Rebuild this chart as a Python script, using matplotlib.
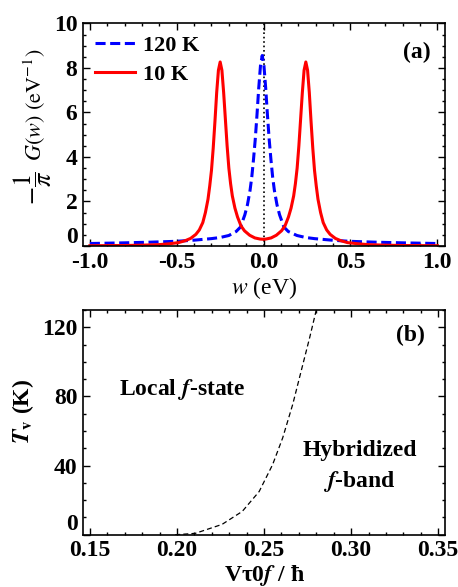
import matplotlib
matplotlib.use('Agg')
import matplotlib.pyplot as plt
from matplotlib.ticker import MultipleLocator

# spectral function, 120 K (blue dashed)
w_120 = [-1.00, -0.80, -0.65, -0.50, -0.40, -0.30, -0.25, -0.20, -0.158, -0.133,
         -0.108, -0.093, -0.078, -0.068, -0.058, -0.048, -0.038, -0.028, -0.018, -0.008,
         0.002, 0.012, 0.022, 0.032, 0.042, 0.052, 0.062, 0.077, 0.092, 0.117,
         0.142, 0.192, 0.242, 0.292, 0.392, 0.492, 0.642, 0.80, 1.00]
g_120 = [0.11, 0.14, 0.17, 0.21, 0.26, 0.33, 0.38, 0.47, 0.65, 0.85,
         1.4, 1.85, 2.5, 3.1, 3.9, 4.8, 5.9, 7.1, 8.1, 8.56,
         8.1, 7.1, 5.9, 4.8, 3.9, 3.1, 2.5, 1.85, 1.4, 0.85,
         0.65, 0.47, 0.38, 0.33, 0.26, 0.21, 0.17, 0.14, 0.11]

# spectral function, 10 K (red solid)
w_10 = [-1.00, -0.90, -0.80, -0.70, -0.60, -0.54, -0.49, -0.45, -0.42, -0.39,
        -0.37, -0.35, -0.335, -0.32, -0.31, -0.30, -0.29, -0.28, -0.27, -0.26,
        -0.25, -0.24, -0.23, -0.22, -0.21, -0.20, -0.19, -0.18, -0.165, -0.15,
        -0.13, -0.11, -0.08, -0.05, -0.02, 0.00, 0.013, 0.043, 0.073, 0.103,
        0.123, 0.143, 0.158, 0.173, 0.183, 0.193, 0.203, 0.213, 0.223, 0.233,
        0.243, 0.253, 0.263, 0.273, 0.283, 0.293, 0.303, 0.313, 0.328, 0.343,
        0.363, 0.383, 0.413, 0.443, 0.483, 0.54, 0.60, 0.70, 0.80, 0.90, 1.00]
g_10 = [0.01, 0.015, 0.02, 0.035, 0.06, 0.10, 0.15, 0.24, 0.34, 0.52,
        0.72, 1.05, 1.5, 2.1, 2.7, 3.4, 4.4, 5.6, 6.9, 7.9,
        8.27, 7.9, 6.9, 5.7, 4.5, 3.5, 2.8, 2.25, 1.7, 1.3,
        0.9, 0.68, 0.48, 0.36, 0.31, 0.30, 0.31, 0.36, 0.48, 0.68,
        0.9, 1.3, 1.7, 2.25, 2.8, 3.5, 4.5, 5.7, 6.9, 7.9,
        8.27, 7.9, 6.9, 5.6, 4.4, 3.4, 2.7, 2.1, 1.5, 1.05,
        0.72, 0.52, 0.34, 0.24, 0.15, 0.10, 0.06, 0.035, 0.02, 0.015, 0.01]

# boundary T_v vs hybridization
v_tau = [0.199, 0.2105, 0.2259, 0.2375, 0.2472, 0.2549, 0.2607, 0.2665, 0.2714,
         0.2762, 0.2800, 0.2810]
t_v = [0.0, 0.8, 6.0, 13.5, 25.0, 40.5, 56.0, 75.5, 95.0, 114.0, 130.0, 134.0]

plt.rcParams['font.family'] = ['Liberation Serif', 'DejaVu Serif']
plt.rcParams['mathtext.fontset'] = 'stix'
plt.rcParams['axes.unicode_minus'] = False

TICK_FS = 17


def style_axes(ax):
    for s in ax.spines.values():
        s.set_linewidth(1.2)
    ax.tick_params(which='both', direction='in', top=True, right=True, width=1)
    ax.tick_params(which='major', length=5, labelsize=TICK_FS, pad=4)
    ax.tick_params(which='minor', length=2.5)
    for lab in ax.get_xticklabels() + ax.get_yticklabels():
        lab.set_fontweight('bold')


def no_zero(fmt):
    return lambda v, p: '' if abs(v) < 1e-9 else fmt.format(v)


fig = plt.figure(figsize=(4.58, 5.87), dpi=100)
ax1 = fig.add_axes([0.181, 0.581, 0.791, 0.379])
ax2 = fig.add_axes([0.181, 0.089, 0.791, 0.383])

# (a)
ax1.axvline(0, color='black', ls=':', lw=1.2)
ax1.plot(w_120, g_120, color='blue', ls=(0, (3.3, 1.5)), lw=2.2, label='120 K')
ax1.plot(w_10, g_10, color='red', lw=2.2, label='10 K')
ax1.set_xlim(-1.04, 1.045)
ax1.set_ylim(0, 10)
ax1.xaxis.set_major_locator(MultipleLocator(0.5))
ax1.xaxis.set_minor_locator(MultipleLocator(0.1))
ax1.yaxis.set_major_locator(MultipleLocator(2))
ax1.yaxis.set_minor_locator(MultipleLocator(0.5))
ax1.xaxis.set_major_formatter(lambda v, p: f'{v:.1f}')
ax1.yaxis.set_major_formatter(no_zero('{:.0f}'))
style_axes(ax1)
ax1.text(-0.015, 0.036, '0', transform=ax1.transAxes, ha='right', va='center',
         fontsize=TICK_FS, fontweight='bold')
ax1.set_xlabel(r'$w$ (eV)', fontsize=17, labelpad=2)
fig.text(0.072, 0.680, r'$-\dfrac{1}{\pi}$', rotation=90, fontsize=19,
         ha='center', va='center')
fig.text(0.076, 0.821, r'$G(w)\ (\mathrm{eV}^{-1})$', rotation=90, fontsize=16,
         ha='center', va='center')
ax1.legend(loc='upper left', frameon=False, handlelength=1.8,
           handletextpad=0.35, borderaxespad=0.15, labelspacing=0.35,
           prop={'size': 16, 'weight': 'bold'})
ax1.text(0.88, 8.7, '(a)', fontsize=17, fontweight='bold', ha='center', va='center')

# (b)
ax2.plot(v_tau, t_v, color='black', ls=(0, (4, 2.5)), lw=0.9)
ax2.set_xlim(0.146, 0.354)
ax2.set_ylim(0, 130)
ax2.xaxis.set_major_locator(MultipleLocator(0.05))
ax2.xaxis.set_minor_locator(MultipleLocator(0.01))
ax2.yaxis.set_major_locator(MultipleLocator(40))
ax2.yaxis.set_minor_locator(MultipleLocator(10))
ax2.xaxis.set_major_formatter(lambda v, p: f'{v:.2f}')
ax2.yaxis.set_major_formatter(no_zero('{:.0f}'))
style_axes(ax2)
ax2.text(-0.015, 0.044, '0', transform=ax2.transAxes, ha='right', va='center',
         fontsize=TICK_FS, fontweight='bold')
ax2.set_xlabel(r'Vτ0$\boldsymbol{f}$ / ħ', fontsize=17, fontweight='bold', labelpad=1)
ax2.set_ylabel(r'$\boldsymbol{T}_{\mathbf{v}}$ (K)', fontsize=17, fontweight='bold')
ax2.yaxis.set_label_coords(-0.13, 0.55)
ax2.text(0.2028, 84, r'Local $\boldsymbol{f}$-state', fontsize=17, fontweight='bold',
         ha='center', va='center')
ax2.text(0.305, 49, 'Hybridized', fontsize=17, fontweight='bold', ha='center', va='center')
ax2.text(0.305, 31, r'$\boldsymbol{f}$-band', fontsize=17, fontweight='bold',
         ha='center', va='center')
ax2.text(0.334, 115, '(b)', fontsize=17, fontweight='bold', ha='center', va='center')

fig.savefig('out.png', dpi=100)
